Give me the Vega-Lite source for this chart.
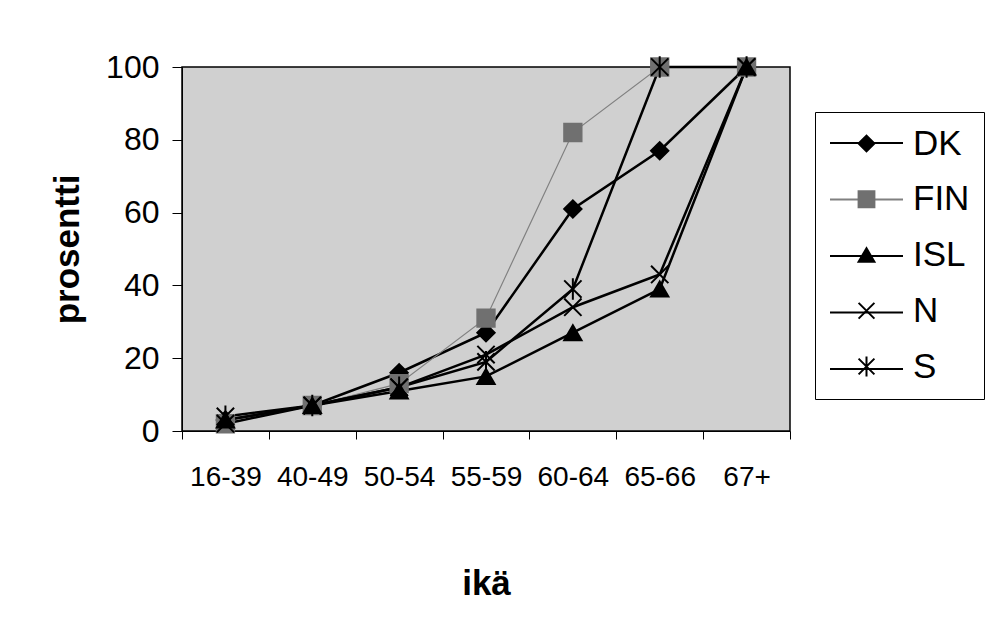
{
  "$schema": "https://vega.github.io/schema/vega-lite/v6.json",
  "width": 608,
  "height": 364,
  "autosize": {"type": "none"},
  "padding": {"left": 182, "top": 67, "right": 212, "bottom": 191},
  "background": "white",
  "config": {
    "font": "Liberation Sans",
    "view": {"fill": "#d0d0d0", "stroke": "black", "strokeWidth": 1.5},
    "axis": {
      "labelFont": "Liberation Sans",
      "titleFont": "Liberation Sans",
      "labelColor": "black",
      "titleColor": "black",
      "domainColor": "black",
      "tickColor": "black",
      "grid": false
    },
    "legend": {"labelFont": "Liberation Sans", "labelColor": "black"}
  },
  "data": {
    "values": [
      {"country": "DK", "age": "16-39", "value": 3},
      {"country": "DK", "age": "40-49", "value": 7},
      {"country": "DK", "age": "50-54", "value": 16},
      {"country": "DK", "age": "55-59", "value": 27},
      {"country": "DK", "age": "60-64", "value": 61},
      {"country": "DK", "age": "65-66", "value": 77},
      {"country": "DK", "age": "67+", "value": 100},
      {"country": "FIN", "age": "16-39", "value": 2},
      {"country": "FIN", "age": "40-49", "value": 7},
      {"country": "FIN", "age": "50-54", "value": 13},
      {"country": "FIN", "age": "55-59", "value": 31},
      {"country": "FIN", "age": "60-64", "value": 82},
      {"country": "FIN", "age": "65-66", "value": 100},
      {"country": "FIN", "age": "67+", "value": 100},
      {"country": "ISL", "age": "16-39", "value": 3},
      {"country": "ISL", "age": "40-49", "value": 7},
      {"country": "ISL", "age": "50-54", "value": 11},
      {"country": "ISL", "age": "55-59", "value": 15},
      {"country": "ISL", "age": "60-64", "value": 27},
      {"country": "ISL", "age": "65-66", "value": 39},
      {"country": "ISL", "age": "67+", "value": 100},
      {"country": "N", "age": "16-39", "value": 2},
      {"country": "N", "age": "40-49", "value": 7},
      {"country": "N", "age": "50-54", "value": 12},
      {"country": "N", "age": "55-59", "value": 21},
      {"country": "N", "age": "60-64", "value": 34},
      {"country": "N", "age": "65-66", "value": 43},
      {"country": "N", "age": "67+", "value": 100},
      {"country": "S", "age": "16-39", "value": 4},
      {"country": "S", "age": "40-49", "value": 7},
      {"country": "S", "age": "50-54", "value": 12},
      {"country": "S", "age": "55-59", "value": 19},
      {"country": "S", "age": "60-64", "value": 39},
      {"country": "S", "age": "65-66", "value": 100},
      {"country": "S", "age": "67+", "value": 100}
    ]
  },
  "encoding": {
    "x": {
      "field": "age",
      "type": "ordinal",
      "sort": null,
      "scale": {"type": "band", "paddingInner": 0, "paddingOuter": 0},
      "axis": {
        "title": "ikä",
        "tickBand": "extent",
        "labelAngle": 0,
        "labelFontSize": 28,
        "labelPadding": 24,
        "tickSize": 8,
        "titleFontSize": 35,
        "titleFontWeight": "bold",
        "titlePadding": 75
      }
    },
    "y": {
      "field": "value",
      "type": "quantitative",
      "scale": {"domain": [0, 100], "nice": false},
      "axis": {
        "title": "prosentti",
        "values": [0, 20, 40, 60, 80, 100],
        "labelFontSize": 32,
        "tickSize": 10,
        "labelPadding": 13,
        "titleFontSize": 35,
        "titleFontWeight": "bold",
        "titlePadding": 20
      }
    }
  },
  "layer": [
    {
      "mark": {"type": "line", "strokeJoin": "miter"},
      "encoding": {
        "color": {
          "field": "country",
          "type": "nominal",
          "scale": {"domain": ["DK", "FIN", "ISL", "N", "S"], "range": ["black", "#808080", "black", "black", "black"]},
          "legend": {
            "orient": "none",
            "legendX": 633,
            "legendY": 24.5,
            "title": null,
            "symbolType": "stroke",
            "symbolSize": 5329,
            "symbolStrokeWidth": 2,
            "labelFontSize": 1,
            "labelOpacity": 0,
            "labelOffset": -40,
            "padding": 14,
            "rowPadding": 14.5
          }
        },
        "strokeWidth": {"condition": {"test": "datum.country === 'FIN'", "value": 1.2}, "value": 2.5}
      }
    },
    {
      "mark": {"type": "point", "filled": true, "opacity": 1, "size": 300, "strokeWidth": 2},
      "encoding": {
        "shape": {
          "field": "country",
          "type": "nominal",
          "scale": {"range": ["diamond", "square", "triangle-up", "M-1,-1L1,1M-1,1L1,-1", "M-1,-1L1,1M-1,1L1,-1M0,-1.25L0,1.25"]},
          "legend": {
            "orient": "none",
            "legendX": 633,
            "legendY": 45,
            "title": null,
            "symbolSize": 250,
            "symbolStrokeWidth": 2,
            "symbolOffset": 20,
            "labelFontSize": 35,
            "labelOffset": 29,
            "labelLimit": 300,
            "strokeColor": "black",
            "padding": 14,
            "rowPadding": 19.75
          }
        },
        "fill": {
          "field": "country",
          "type": "nominal",
          "scale": {"range": ["black", "#707070", "black", "transparent", "transparent"]},
          "legend": {
            "orient": "none",
            "legendX": 633,
            "legendY": 45,
            "title": null,
            "symbolSize": 250,
            "symbolStrokeWidth": 2,
            "symbolOffset": 20,
            "labelFontSize": 35,
            "labelOffset": 29,
            "labelLimit": 300,
            "strokeColor": "black",
            "padding": 14,
            "rowPadding": 19.75
          }
        },
        "stroke": {
          "field": "country",
          "type": "nominal",
          "scale": {"range": ["black", "#707070", "black", "black", "black"]},
          "legend": {
            "orient": "none",
            "legendX": 633,
            "legendY": 45,
            "title": null,
            "symbolSize": 250,
            "symbolStrokeWidth": 2,
            "symbolOffset": 20,
            "labelFontSize": 35,
            "labelOffset": 29,
            "labelLimit": 300,
            "strokeColor": "black",
            "padding": 14,
            "rowPadding": 19.75
          }
        }
      }
    }
  ]
}
